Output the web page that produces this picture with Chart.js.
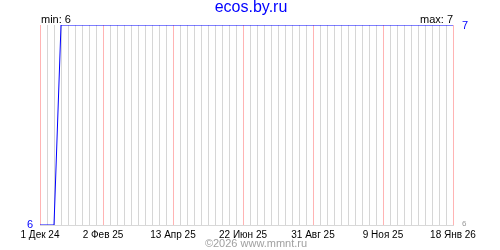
<!DOCTYPE html>
<html>
<head>
<meta charset="utf-8">
<script src="https://cdn.jsdelivr.net/npm/chart.js@4"></script>
<style>
  body { margin: 0; background: #fff; }
</style>
</head>
<body>
<canvas id="chart" width="500" height="250"></canvas>
<script>
// x in days counted from 1 Дек 24
const pointDays = [0, 14, 21, 413];
const pointValues = [6, 6, 7, 7];
const labelDays = [0, 63, 133, 203, 273, 343, 413];
const labelTexts = ['1 Дек 24', '2 Фев 25', '13 Апр 25', '22 Июн 25', '31 Авг 25', '9 Ноя 25', '18 Янв 26'];
const minValue = 6;
const maxValue = 7;
const firstDay = 0;
const lastDay = 413;
const weekStep = 7;

const font = '"Liberation Sans", Arial, sans-serif';

// title, min/max notes, side values and footer
const textPlugin = {
    id: 'texts',
    afterDraw(chart) {
        const ctx = chart.ctx;
        const area = chart.chartArea;
        const y = chart.scales.y;
        ctx.save();

        ctx.font = '16px ' + font;
        ctx.fillStyle = '#0000ff';
        ctx.textAlign = 'center';
        ctx.textBaseline = 'alphabetic';
        ctx.fillText('ecos.by.ru', 251, 12);

        ctx.font = '11px ' + font;
        ctx.fillStyle = '#000000';
        ctx.textAlign = 'left';
        ctx.fillText('min: ' + minValue, area.left + 1, area.top - 2);
        ctx.textAlign = 'right';
        ctx.fillText('max: ' + maxValue, area.right, area.top - 2);

        ctx.textBaseline = 'middle';
        ctx.fillStyle = '#0000ff';
        ctx.textAlign = 'right';
        ctx.fillText(String(minValue), area.left - 7, y.getPixelForValue(minValue));
        ctx.textAlign = 'left';
        ctx.fillText(String(maxValue), area.right + 9, y.getPixelForValue(maxValue) + 1);

        ctx.font = '8px ' + font;
        ctx.fillStyle = '#999999';
        ctx.fillText(String(minValue), area.right + 9, y.getPixelForValue(minValue) - 1);

        ctx.font = '11px ' + font;
        ctx.fillStyle = '#a0a0a0';
        ctx.textAlign = 'center';
        ctx.fillText('\u00a92026 www.mmnt.ru', 256, 244);

        ctx.restore();
    }
};

const ctx = document.getElementById('chart').getContext('2d');
new Chart(ctx, {
    type: 'line',
    data: {
        datasets: [{
            data: pointDays.map((d, i) => ({ x: d, y: pointValues[i] })),
            borderColor: '#0000ff',
            borderWidth: 1,
            pointRadius: 0,
            tension: 0,
            fill: false
        }]
    },
    options: {
        responsive: false,
        animation: false,
        layout: {
            padding: { left: 40, right: 47, top: 25, bottom: 0 }
        },
        plugins: {
            legend: { display: false },
            tooltip: { enabled: false }
        },
        scales: {
            // weekly gray grid
            x: {
                type: 'linear',
                position: 'bottom',
                min: firstDay,
                max: lastDay,
                afterBuildTicks: scale => {
                    const ticks = [];
                    for (let d = firstDay; d <= lastDay; d += weekStep) {
                        if (!labelDays.includes(d)) ticks.push({ value: d });
                    }
                    scale.ticks = ticks;
                },
                afterFit: scale => { scale.height = 0; },
                grid: { color: '#d6d6d6', lineWidth: 1, drawTicks: false },
                border: { color: '#d8d8d8' },
                ticks: { display: false, autoSkip: false }
            },
            // labelled pink grid
            x2: {
                type: 'linear',
                position: 'bottom',
                min: firstDay,
                max: lastDay,
                afterBuildTicks: scale => {
                    scale.ticks = labelDays.map(d => ({ value: d }));
                },
                afterFit: scale => { scale.height = 25; },
                grid: { color: '#ffb4b4', lineWidth: 1, drawTicks: false },
                border: { display: false },
                ticks: {
                    autoSkip: false,
                    maxRotation: 0,
                    padding: 4,
                    color: '#000000',
                    font: { family: font, size: 10 },
                    callback: v => {
                        const i = labelDays.indexOf(v);
                        return i >= 0 ? labelTexts[i] : '';
                    }
                }
            },
            y: {
                display: false,
                min: minValue,
                max: maxValue
            }
        }
    },
    plugins: [textPlugin]
});
</script>
</body>
</html>
